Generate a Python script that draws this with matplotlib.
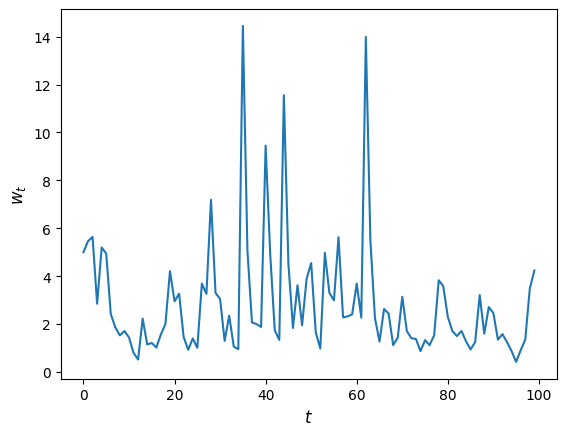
import numpy as np
import matplotlib
matplotlib.use("Agg")
import matplotlib.pyplot as plt

# values, one per time step
w = [5.0, 5.46, 5.64, 2.85, 5.2, 4.94, 2.42, 1.86, 1.53, 1.71,
     1.44, 0.8, 0.52, 2.23, 1.15, 1.21, 1.02, 1.57, 2.0, 4.21,
     2.95, 3.27, 1.46, 0.93, 1.4, 1.01, 3.69, 3.26, 7.19, 3.3,
     3.05, 1.3, 2.35, 1.06, 0.95, 14.45, 5.08, 2.07, 2.0, 1.88,
     9.45, 4.94, 1.74, 1.34, 11.56, 4.52, 1.84, 3.62, 1.95, 3.9,
     4.55, 1.66, 0.98, 4.98, 3.3, 2.99, 5.63, 2.28, 2.32, 2.41,
     3.69, 2.27, 13.99, 5.49, 2.25, 1.27, 2.63, 2.44, 1.12, 1.43,
     3.14, 1.71, 1.41, 1.38, 0.87, 1.33, 1.12, 1.53, 3.83, 3.58,
     2.3, 1.71, 1.5, 1.71, 1.28, 0.94, 1.25, 3.21, 1.6, 2.71,
     2.46, 1.35, 1.58, 1.25, 0.87, 0.42, 0.91, 1.35, 3.48, 4.24]
t = np.arange(len(w))

fig, ax = plt.subplots()
ax.plot(t, w)
ax.set_xlabel('$t$', fontsize=12)
ax.set_ylabel('$w_t$', fontsize=12)

fig.savefig('out.png', dpi=100, bbox_inches='tight')
